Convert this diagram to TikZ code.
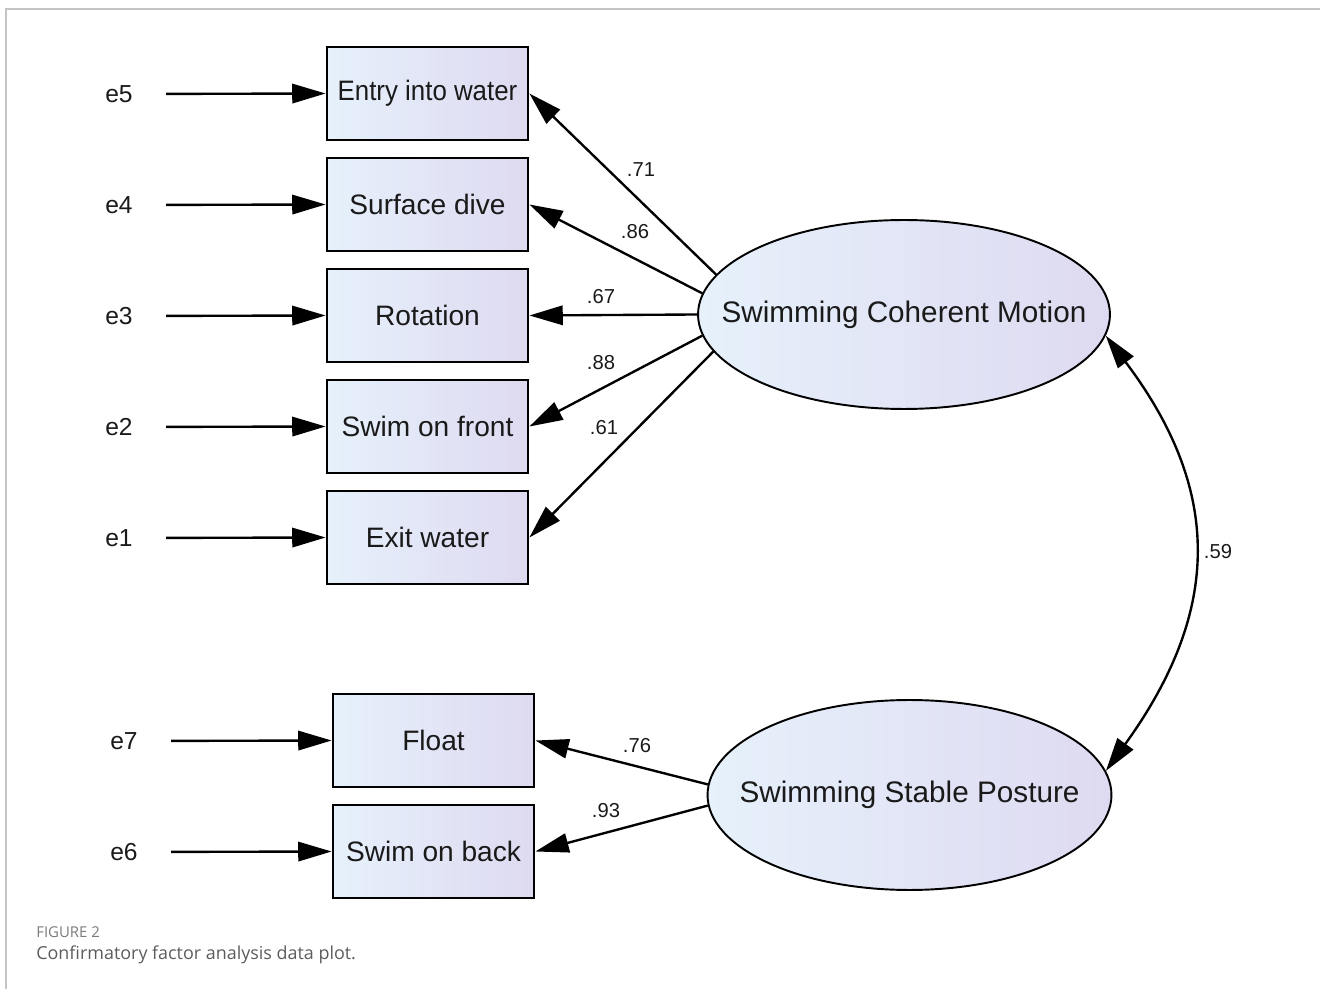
\documentclass[tikz,border=0pt]{standalone}
\usepackage{fontspec}
\setmainfont{Liberation Sans}
\newfontfamily\capfont{Open Sans}
\usetikzlibrary{arrows.meta,shapes.geometric}
\definecolor{lblue}{HTML}{E6F1FB}
\definecolor{lpurp}{HTML}{DEDAF1}
\definecolor{framegray}{HTML}{C4C4C4}
\definecolor{capgray}{HTML}{5C5C5C}
\definecolor{figgray}{HTML}{7A7A7A}
\definecolor{txt}{HTML}{1A1A1A}
\tikzset{
  mytip/.tip={Triangle[length=19pt,width=11pt]},
  obs/.style={draw=black, line width=1.6pt, left color=lblue, right color=lpurp,
    minimum width=4.02cm, minimum height=1.86cm, inner sep=0pt, text=txt,
    font=\fontsize{16}{18}\selectfont},
  lat/.style={ellipse, draw=black, line width=1.1pt, left color=lblue, right color=lpurp,
    inner sep=0pt},
  lattext/.style={inner sep=0pt, text=txt, font=\fontsize{16.9}{19}\selectfont},
  arr/.style={-mytip, line width=1.35pt},
  dbl/.style={mytip-mytip, line width=1.35pt},
  errlab/.style={inner sep=0pt, text=txt, font=\fontsize{14}{16}\selectfont},
  coef/.style={inner sep=0pt, text=txt, font=\fontsize{11.5}{13}\selectfont},
}
\begin{document}
\begin{tikzpicture}[x=0.02cm, y=-0.02cm]
\useasboundingbox (0,0) rectangle (1320,989);
% frame
\draw[framegray, line width=1pt] (6,989) -- (6,9) -- (1320,9);

% observed variables
\node[obs] (x5) at (427.5,93.5) {\scalebox{0.92}[1]{Entry into water}};
\node[obs] (x4) at (427.5,204.5) {Surface dive};
\node[obs] (x3) at (427.5,315.5) {Rotation};
\node[obs] (x2) at (427.5,426.5) {Swim on front};
\node[obs] (x1) at (427.5,537.5) {Exit water};
\node[obs] (x7) at (433.5,740.5) {Float};
\node[obs] (x6) at (433.5,851.5) {Swim on back};

% error labels
\node[errlab] (e5) at (119,94) {e5};
\node[errlab] (e4) at (119,205) {e4};
\node[errlab] (e3) at (119,316) {e3};
\node[errlab] (e2) at (119,427) {e2};
\node[errlab] (e1) at (119,538) {e1};
\node[errlab] (e7) at (124,741) {e7};
\node[errlab] (e6) at (124,852) {e6};

\foreach \e/\x in {e5/x5,e4/x4,e3/x3,e2/x2,e1/x1}
  \draw[arr, shorten <=0.66cm] (\e.east) -- (\x.west);
\foreach \e/\x in {e7/x7,e6/x6}
  \draw[arr, shorten <=0.66cm] (\e.east) -- (\x.west);

% latent variables
\node[lat, minimum width=8.24cm, minimum height=3.78cm] (F1) at (904,314.5) {};
\node[lattext] (t1) at (F1.center) {Swimming Coherent Motion};
\node[lat, minimum width=8.08cm, minimum height=3.8cm] (F2) at (909.5,795) {};
\node[lattext] (t2) at (F2.center) {Swimming Stable Posture};

% loadings
\draw[arr] (F1.168.5) -- (x5.east);
\draw[arr] (F1.174.5) -- (x4.east);
\draw[arr] (F1.180) -- (x3.east);
\draw[arr] (F1.186) -- (x2.east);
\draw[arr] (F1.191) -- (x1.east);
\draw[arr] (F2.177.5) -- (x7.east);
\draw[arr] (F2.183) -- (x6.east);

% correlation
\draw[dbl] (F1.354.7) .. controls (1222,490) and (1222,610) .. (F2.7.3);

% coefficients
\node[coef] (c71) at (641,170) {.71};
\node[coef] (c86) at (635,232) {.86};
\node[coef] (c67) at (601,297) {.67};
\node[coef] (c88) at (601,363) {.88};
\node[coef] (c61) at (604,428) {.61};
\node[coef] (c76) at (637,746) {.76};
\node[coef] (c93) at (606,811) {.93};
\node[coef] (c59) at (1218,552) {.59};

% caption
\node[anchor=west, inner sep=0pt, text=figgray, font=\capfont\fontsize{8.5}{10}\selectfont] (fig) at (36,932) {FIGURE 2};
\node[anchor=west, inner sep=0pt, text=capgray, font=\capfont\fontsize{10.2}{12}\selectfont] (cap) at (36,955) {Confirmatory factor analysis data plot.};
\end{tikzpicture}
\end{document}
